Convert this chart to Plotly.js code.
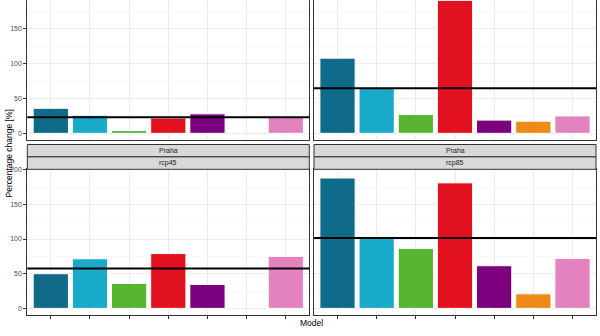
<!DOCTYPE html>
<html>
<head>
<meta charset="utf-8">
<script src="https://cdn.plot.ly/plotly-3.0.1.min.js"></script>
<style>
  html, body { margin: 0; padding: 0; overflow: hidden; background: #ffffff; }
  #wrap { position: relative; width: 600px; height: 336px; overflow: hidden; }
  #chart { position: absolute; left: 0; top: -32px; width: 600px; height: 368px; }
</style>
</head>
<body>
<div id="wrap"><div id="chart"></div></div>
<script>
// ---- data ----
const models = ["M1", "M2", "M3", "M4", "M5", "M6", "M7"];
const modelColors = ["#0f6b88", "#19a9c9", "#57b531", "#e2111f", "#7a007e", "#ee8a17", "#e283c0"];
const scenarios = ["rcp26", "rcp85", "rcp45", "rcp85"];
const stations = ["Praha", "Praha", "Praha", "Praha"];
const yTicksTop = [0, 50, 100, 150];
const yTicksBottom = [0, 50, 100, 150, 200];
// panel order: top-left, top-right, bottom-left, bottom-right
const valsTopLeft = [36, 26, 4, 22, 28, null, 23];
const valsTopRight = [108, 65, 27, 191, 19, 17.5, 25];
const valsBottomLeft = [50, 71.5, 36, 79, 34.5, null, 75];
const valsBottomRight = [188, 101, 86.5, 181, 61.5, 21, 72];
const panelValues = [valsTopLeft, valsTopRight, valsBottomLeft, valsBottomRight];

// ---- layout geometry (pixels in a 600x368 canvas, shown shifted up by 32px) ----
const W = 600, H = 368;
const px = v => v / W;
const py = v => 1 - v / H;
const colX = [[27.3, 309.3], [314, 596]];
const rowY = [[25.7, 172], [201.3, 347]];
const stripH = 12.4;

const allVals = panelValues.flat().filter(v => v !== null);
const M = Math.max(...allVals);
const yRange = [-0.05 * M, 1.05 * M];

const font = "Liberation Sans, Arial, sans-serif";
const traces = [];
const layout = {
  width: W, height: H,
  margin: {l: 0, r: 0, t: 0, b: 0},
  paper_bgcolor: "#ffffff",
  plot_bgcolor: "#ffffff",
  showlegend: false,
  font: {family: font, size: 7, color: "#4d4d4d"},
  shapes: [],
  annotations: []
};

const mean = arr => { const a = arr.filter(v => v !== null); return a.reduce((s, v) => s + v, 0) / a.length; };

panelValues.forEach((vals, i) => {
  const r = Math.floor(i / 2), c = i % 2;
  const n = i + 1;
  const xa = "x" + (n === 1 ? "" : n), ya = "y" + (n === 1 ? "" : n);
  traces.push({
    type: "bar",
    x: models,
    y: vals,
    xaxis: xa, yaxis: ya,
    width: 0.9,
    marker: {color: modelColors, line: {color: "#ffffff", width: 1}},
    hoverinfo: "x+y"
  });
  const bottomRow = r === 1, leftCol = c === 0;
  layout["xaxis" + (n === 1 ? "" : n)] = {
    domain: [px(colX[c][0]), px(colX[c][1])],
    anchor: ya,
    type: "category",
    categoryorder: "array", categoryarray: models,
    range: [-0.6, models.length - 0.4],
    showgrid: true, gridcolor: "#ebebeb", gridwidth: 1,
    showline: true, linecolor: "#333333", linewidth: 1, mirror: true,
    ticks: bottomRow ? "outside" : "", ticklen: 3, tickcolor: "#333333", tickwidth: 1,
    showticklabels: false,
    zeroline: false,
    fixedrange: true
  };
  layout["yaxis" + (n === 1 ? "" : n)] = {
    domain: [py(rowY[r][1]), py(rowY[r][0])],
    anchor: xa,
    range: yRange,
    tickmode: "array",
    tickvals: bottomRow ? yTicksBottom : yTicksTop,
    showgrid: true, gridcolor: "#ebebeb", gridwidth: 1,
    minor: {tick0: 0, dtick: 25, showgrid: true, gridcolor: "#f3f3f3", gridwidth: 0.6},
    showline: true, linecolor: "#333333", linewidth: 1, mirror: true,
    ticks: leftCol ? "outside" : "", ticklen: 3, tickcolor: "#333333", tickwidth: 1,
    showticklabels: leftCol,
    tickfont: {family: font, size: 7, color: "#4d4d4d"},
    zeroline: false,
    fixedrange: true
  };
  // mean line across the panel
  layout.shapes.push({
    type: "line", xref: xa + " domain", yref: ya,
    x0: 0, x1: 1, y0: mean(vals), y1: mean(vals),
    line: {color: "#000000", width: 2}, layer: "above"
  });
  // strips (only the bottom row's strips are inside the visible area)
  if (bottomRow) {
    const top = rowY[r][0];
    const labels = [stations[i], scenarios[i]];
    labels.forEach((lab, k) => {
      const y1 = top - stripH * (2 - k);
      const y0 = y1 + stripH;
      layout.shapes.push({
        type: "rect", xref: "paper", yref: "paper",
        x0: px(colX[c][0]), x1: px(colX[c][1]),
        y0: py(y0), y1: py(y1),
        fillcolor: "#d9d9d9", line: {color: "#333333", width: 1}, layer: "above"
      });
      layout.annotations.push({
        xref: "paper", yref: "paper",
        x: px((colX[c][0] + colX[c][1]) / 2), y: py((y0 + y1) / 2),
        text: lab, showarrow: false,
        xanchor: "center", yanchor: "middle",
        font: {family: font, size: 7, color: "#1a1a1a"}
      });
    });
  }
});

// axis titles
layout.annotations.push({
  xref: "paper", yref: "paper", x: px(311.7), y: py(354.7),
  text: "Model", showarrow: false, xanchor: "center", yanchor: "middle",
  font: {family: font, size: 8.5, color: "#000000"}
});
layout.annotations.push({
  xref: "paper", yref: "paper", x: px(8), y: py(185.5),
  text: "Percentage change [%]", showarrow: false, textangle: -90,
  xanchor: "center", yanchor: "middle",
  font: {family: font, size: 8.5, color: "#000000"}
});

Plotly.newPlot("chart", traces, layout, {displayModeBar: false, staticPlot: true});
</script>
</body>
</html>
